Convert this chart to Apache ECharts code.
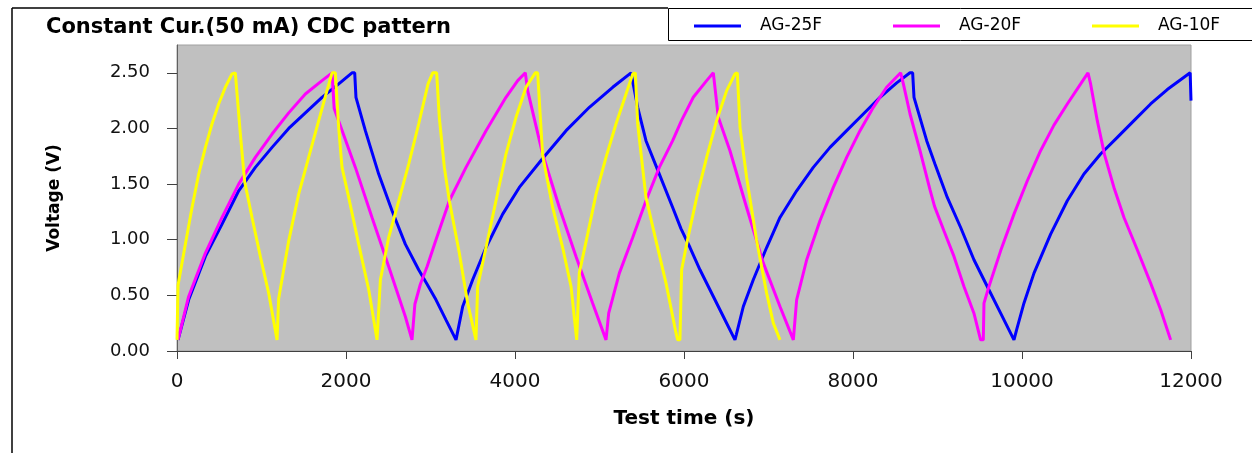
<!DOCTYPE html>
<html>
<head>
<meta charset="utf-8">
<script src="https://cdn.jsdelivr.net/npm/echarts@6/dist/echarts.min.js"></script>
<style>
  html, body { margin: 0; padding: 0; background: #fff; }
  #chart { width: 1252px; height: 453px; }
</style>
</head>
<body>
<div id="chart"></div>
<script>
// values (time in s, voltage in V)
var seriesNames = ['AG-25F', 'AG-20F', 'AG-10F'];
var xTicks = [0, 2000, 4000, 6000, 8000, 10000, 12000];
var yTicks = [0, 0.5, 1, 1.5, 2, 2.5];

var ag25fTime = [12, 138, 336, 533, 730, 927, 1125, 1322, 1519, 1716, 1914, 2071, 2103,
    2118, 2229, 2387, 2545, 2702, 2860, 2960, 3065, 3183, 3302,
    3321, 3381, 3499, 3657, 3854, 4051, 4327, 4604, 4880, 5156, 5373, 5393,
    5452, 5550, 5708, 5866, 5964, 6071, 6189, 6347, 6465, 6603,
    6620, 6702, 6820, 6978, 7136, 7333, 7530, 7728, 7925, 8122, 8320, 8517, 8674, 8706,
    8722, 8872, 8970, 9116, 9274, 9431, 9589, 9747, 9905,
    9936, 10023, 10142, 10339, 10536, 10733, 10930, 11128, 11325, 11522, 11719, 11990, 12000];
var ag25fVolt = [0.10, 0.46, 0.85, 1.14, 1.44, 1.65, 1.83, 2.00, 2.14, 2.28, 2.40, 2.50, 2.50,
    2.28, 1.98, 1.59, 1.26, 0.96, 0.73, 0.60, 0.46, 0.28, 0.10,
    0.10, 0.40, 0.64, 0.93, 1.23, 1.47, 1.73, 1.98, 2.19, 2.37, 2.50, 2.50,
    2.19, 1.89, 1.59, 1.29, 1.10, 0.93, 0.73, 0.49, 0.31, 0.10,
    0.15, 0.40, 0.64, 0.93, 1.20, 1.44, 1.65, 1.83, 1.98, 2.13, 2.28, 2.41, 2.50, 2.50,
    2.28, 1.89, 1.68, 1.38, 1.11, 0.82, 0.58, 0.34, 0.10,
    0.19, 0.43, 0.70, 1.05, 1.35, 1.59, 1.77, 1.92, 2.07, 2.22, 2.35, 2.50, 2.25];

var ag20fTime = [12, 138, 336, 533, 730, 927, 1125, 1322, 1519, 1716, 1835,
    1860, 2111, 2308, 2505, 2702, 2781,
    2801, 2815, 2880, 2960, 3065, 3223, 3420, 3657, 3893, 4032, 4122,
    4150, 4327, 4525, 4722, 4919, 5077,
    5089, 5109, 5235, 5393, 5550, 5708, 5866, 5970, 6110, 6268, 6347,
    6367, 6406, 6544, 6741, 6939, 7136, 7294,
    7313, 7333, 7452, 7609, 7767, 7925, 8083, 8241, 8398, 8564,
    8596, 8675, 8793, 8911, 8965, 9076, 9195, 9313, 9431, 9510,
    9542, 9550, 9609, 9747, 9905, 10063, 10220, 10378, 10536, 10694, 10781,
    10812, 10891, 10978, 11088, 11207, 11364, 11522, 11641, 11759];
var ag20fVolt = [0.10, 0.49, 0.88, 1.20, 1.50, 1.74, 1.95, 2.14, 2.31, 2.43, 2.50,
    2.18, 1.65, 1.20, 0.76, 0.31, 0.10,
    0.10, 0.42, 0.60, 0.76, 1.00, 1.35, 1.65, 1.98, 2.28, 2.43, 2.50,
    2.34, 1.77, 1.29, 0.85, 0.43, 0.10,
    0.10, 0.34, 0.70, 1.02, 1.35, 1.65, 1.89, 2.07, 2.28, 2.43, 2.50,
    2.50, 2.10, 1.80, 1.29, 0.79, 0.40, 0.10,
    0.10, 0.46, 0.82, 1.17, 1.47, 1.74, 1.98, 2.19, 2.37, 2.50,
    2.40, 2.13, 1.80, 1.45, 1.30, 1.08, 0.85, 0.58, 0.34, 0.10,
    0.10, 0.43, 0.58, 0.90, 1.23, 1.53, 1.80, 2.03, 2.22, 2.40, 2.50,
    2.40, 2.07, 1.76, 1.47, 1.20, 0.91, 0.61, 0.37, 0.10];

var ag10fTime = [0, 12, 99, 178, 257, 336, 414, 493, 572, 651, 690,
    698, 750, 801, 888, 986, 1085, 1184,
    1195, 1203, 1322, 1440, 1558, 1677, 1775, 1835,
    1874, 1914, 1953, 2032, 2150, 2269, 2367,
    2387, 2407, 2505, 2624, 2742, 2860, 2971, 3026,
    3073, 3104, 3164, 3223, 3341, 3440, 3538,
    3550, 3558, 3657, 3775, 3893, 4012, 4130, 4240,
    4268, 4327, 4446, 4564, 4663, 4730,
    4745, 4761, 4860, 4959, 5077, 5195, 5314, 5393, 5424,
    5452, 5550, 5669, 5787, 5906, 5925,
    5952, 5972, 6031, 6150, 6268, 6386, 6505, 6603, 6631,
    6663, 6741, 6860, 6978, 7057, 7136];
var ag10fVolt = [0.10, 0.59, 0.96, 1.29, 1.59, 1.83, 2.04, 2.22, 2.37, 2.49, 2.50,
    2.50, 1.95, 1.52, 1.20, 0.85, 0.52, 0.10,
    0.10, 0.47, 0.99, 1.41, 1.74, 2.07, 2.34, 2.50,
    2.50, 2.00, 1.65, 1.38, 0.96, 0.55, 0.10,
    0.10, 0.64, 1.02, 1.35, 1.68, 2.04, 2.40, 2.50,
    2.50, 2.10, 1.65, 1.35, 0.88, 0.43, 0.10,
    0.10, 0.58, 0.93, 1.35, 1.77, 2.10, 2.37, 2.50,
    2.50, 1.76, 1.29, 0.93, 0.58, 0.10,
    0.10, 0.70, 1.05, 1.41, 1.74, 2.04, 2.31, 2.49, 2.50,
    2.04, 1.38, 0.99, 0.61, 0.16, 0.10,
    0.10, 0.73, 0.96, 1.38, 1.74, 2.07, 2.34, 2.49, 2.50,
    2.01, 1.56, 0.99, 0.52, 0.25, 0.10];

var colors = ['#0000ff', '#ff00ff', '#ffff00'];

function pairs(ts, vs) {
    var out = [];
    for (var i = 0; i < ts.length; i++) out.push([ts[i], vs[i]]);
    return out;
}

var myChart = echarts.init(document.getElementById('chart'));

var font = 'DejaVu Sans';

var option = {
    animation: false,
    backgroundColor: '#ffffff',
    title: {
        text: 'Constant Cur.(50 mA) CDC pattern',
        left: 41,
        top: 12,
        textStyle: { fontFamily: font, fontSize: 21, fontWeight: 'bold', color: '#000' }
    },
    legend: {
        left: 668,
        top: 8,
        icon: 'rect',
        itemWidth: 47,
        itemHeight: 3,
        itemGap: 55,
        padding: [8, 0, 4, 26],
        borderWidth: 0,
        data: seriesNames,
        textStyle: {
            fontFamily: font, fontSize: 17, color: '#000',
            lineHeight: 20, width: 78, padding: [0, 0, 0, 14]
        }
    },
    grid: {
        left: 177,
        right: 61,
        top: 45,
        bottom: 102,
        show: true,
        backgroundColor: '#c0c0c0',
        borderColor: '#a0a0a0',
        borderWidth: 1
    },
    xAxis: {
        type: 'value',
        min: 0,
        max: 12000,
        interval: 2000,
        name: 'Test time (s)',
        nameLocation: 'middle',
        nameGap: 58,
        nameTextStyle: { fontFamily: font, fontSize: 20, fontWeight: 'bold', color: '#000' },
        axisLine: { onZero: false, lineStyle: { color: '#404040', width: 1 } },
        axisTick: { show: true, length: 8, lineStyle: { color: '#404040' }, customValues: xTicks },
        axisLabel: {
            margin: 21, fontFamily: font, fontSize: 20, color: '#111', customValues: xTicks,
            formatter: function (v) { return String(v); }
        },
        splitLine: { show: false }
    },
    yAxis: {
        type: 'value',
        min: 0,
        max: 2.75,
        interval: 0.5,
        name: 'Voltage (V)',
        nameLocation: 'middle',
        nameGap: 114,
        nameTextStyle: { fontFamily: font, fontSize: 17, fontWeight: 'bold', color: '#000' },
        axisLine: { show: true, lineStyle: { color: '#606060', width: 1 } },
        axisTick: { show: true, length: 10, lineStyle: { color: '#404040' }, customValues: yTicks },
        axisLabel: {
            margin: 27, fontFamily: font, fontSize: 18, color: '#111',
            customValues: yTicks,
            formatter: function (v) { return v.toFixed(2); }
        },
        splitLine: { show: false }
    },
    graphic: [
        { type: 'line', shape: { x1: 12, y1: 8, x2: 12, y2: 453 }, style: { stroke: '#000', lineWidth: 1.5 } },
        { type: 'line', shape: { x1: 12, y1: 8, x2: 668, y2: 8 }, style: { stroke: '#000', lineWidth: 1.5 } },
        { type: 'rect', z: -1, shape: { x: 668.5, y: 8.5, width: 600, height: 32 }, style: { fill: '#fff', stroke: '#000', lineWidth: 1 } }
    ],
    series: [
        {
            name: seriesNames[0],
            type: 'line',
            data: pairs(ag25fTime, ag25fVolt),
            showSymbol: false,
            itemStyle: { color: colors[0] },
            lineStyle: { color: colors[0], width: 3 }
        },
        {
            name: seriesNames[1],
            type: 'line',
            data: pairs(ag20fTime, ag20fVolt),
            showSymbol: false,
            itemStyle: { color: colors[1] },
            lineStyle: { color: colors[1], width: 3 }
        },
        {
            name: seriesNames[2],
            type: 'line',
            data: pairs(ag10fTime, ag10fVolt),
            showSymbol: false,
            itemStyle: { color: colors[2] },
            lineStyle: { color: colors[2], width: 3 }
        }
    ]
};

myChart.setOption(option);
</script>
</body>
</html>
